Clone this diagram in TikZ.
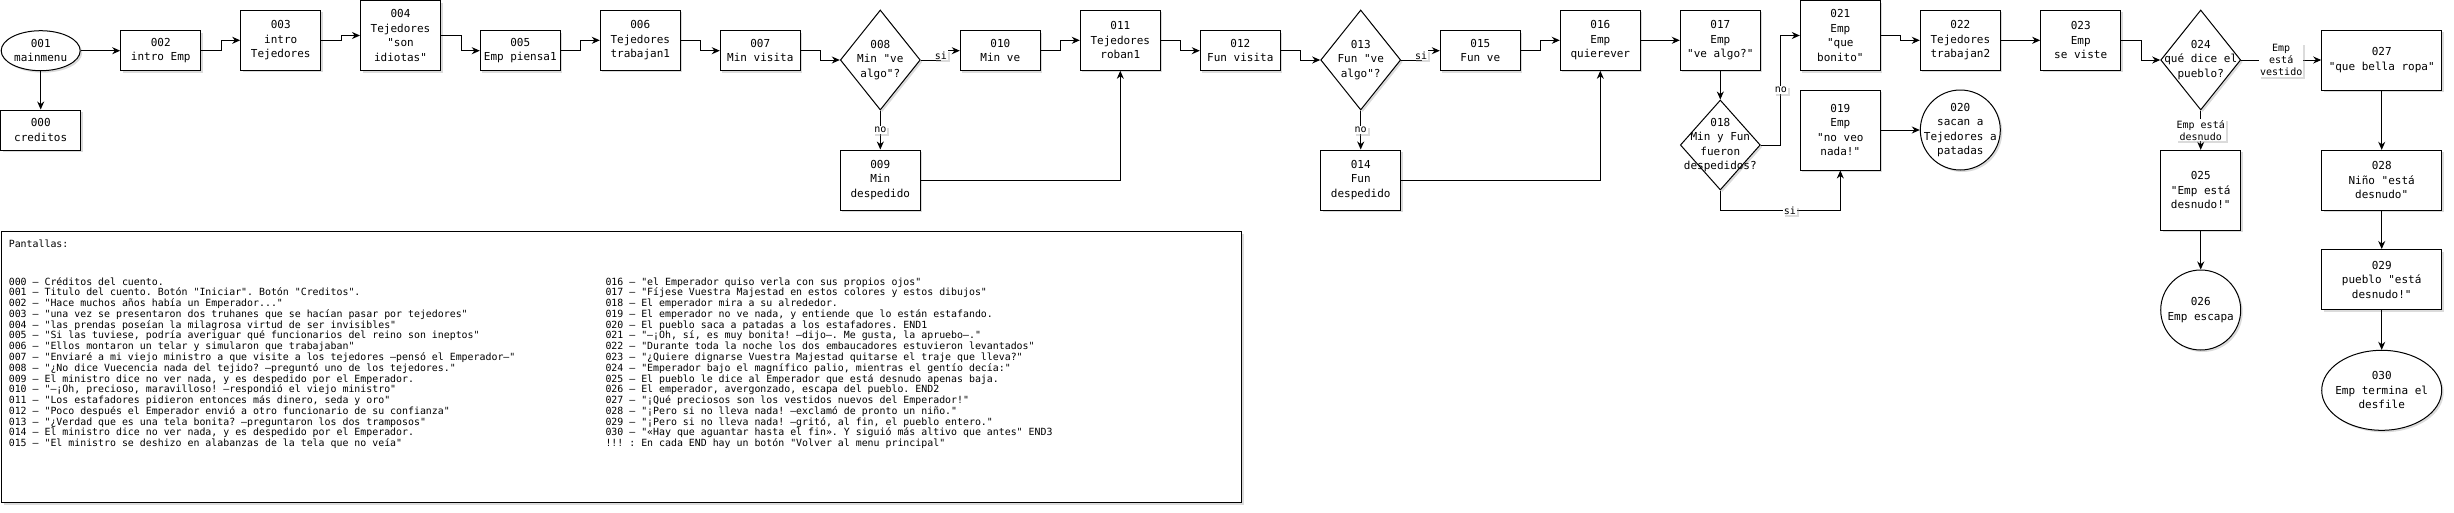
\documentclass[tikz,border=0pt]{standalone}
\usepackage{fontspec}
\setmonofont{DejaVu Sans Mono}
\usepackage{tikz}
\usetikzlibrary{arrows.meta}
\usetikzlibrary{shapes}
\usetikzlibrary{shadows}

\begin{document}
\begin{tikzpicture}[x=1pt, y=-1pt, line width=1pt]
            \tikzset{every node/.style={font=\ttfamily\fontsize{11}{14.5}\selectfont, align=center, inner sep=0pt},
                    >={Stealth[length=8pt, width=7pt]},
                    every edge/.style={draw=black, line width=1pt},
                    boxshadow/.style={drop shadow={shadow xshift=2pt, shadow yshift=-2pt, fill=black!40, opacity=.35}},
                    screen/.style={draw, fill=white, boxshadow, minimum width=80, minimum height=40},
                    choice/.style={diamond, draw, fill=white, boxshadow, minimum width=80, minimum height=100},
                    ending/.style={ellipse, draw, fill=white, boxshadow},
                    lbl/.style={fill=white, boxshadow, inner sep=1pt, font=\ttfamily\fontsize{10}{12}\selectfont},
                    listing/.style={anchor=base west, font=\ttfamily\fontsize{9.9}{10.8}\selectfont}}
            \useasboundingbox (0,0) rectangle (2454,512);
            % screens of the story
            \node[ending, minimum width=79, minimum height=40, label={center:{001\\mainmenu}}] (1) at (40.7, 50.7) {};
            \node[screen] (0) at (40.7, 130) {000\\creditos};
            \node[screen] (2) at (160.7, 50.7) {002\\intro Emp};
            \node[screen, minimum height=60] (3) at (280.7, 40.3) {003\\intro\\Tejedores};
            \node[screen, minimum height=70] (4) at (400.5, 35.5) {004\\Tejedores\\"son\\idiotas"};
            \node[screen] (5) at (520.3, 50.7) {005\\Emp piensa1};
            \node[screen, minimum height=60] (6) at (640.3, 40.3) {006\\Tejedores\\trabajan1};
            \node[screen] (7) at (760.3, 50.7) {007\\Min visita};
            \node[choice, label={center:{008\\Min "ve\\algo"?}}] (8) at (880.3, 60) {};
            \node[screen, minimum height=60] (9) at (880.3, 180) {009\\Min\\despedido};
            \node[screen] (10) at (1000.3, 50.7) {010\\Min ve};
            \node[screen, minimum height=60] (11) at (1120.3, 40.3) {011\\Tejedores\\roban1};
            \node[screen] (12) at (1240.3, 50.7) {012\\Fun visita};
            \node[choice, label={center:{013\\Fun "ve\\algo"?}}] (13) at (1360.7, 60) {};
            \node[screen, minimum height=60] (14) at (1360.7, 180) {014\\Fun\\despedido};
            \node[screen] (15) at (1480.3, 50.7) {015\\Fun ve};
            \node[screen, minimum height=60] (16) at (1600.3, 40.3) {016\\Emp\\quierever};
            \node[screen, minimum height=60] (17) at (1720.3, 40.3) {017\\Emp\\"ve algo?"};
            \node[choice, minimum height=90, label={center:{018\\Min y Fun\\fueron\\despedidos?}}] (18) at (1720.3, 145) {};
            \node[screen, minimum height=80] (19) at (1840.3, 130) {019\\Emp\\"no veo\\nada!"};
            \node[ending, minimum width=80, minimum height=80, label={center:{020\\sacan a\\Tejedores a\\patadas}}] (20) at (1960.3, 130) {};
            \node[screen, minimum height=70] (21) at (1840.3, 35.5) {021\\Emp\\"que\\bonito"};
            \node[screen, minimum height=60] (22) at (1960.3, 40.3) {022\\Tejedores\\trabajan2};
            \node[screen, minimum height=60] (23) at (2080.7, 40.3) {023\\Emp\\se viste};
            \node[choice, label={center:{024\\qué dice el\\pueblo?}}] (24) at (2200.7, 60) {};
            \node[screen, minimum height=80] (25) at (2200.7, 190.3) {025\\"Emp está\\desnudo!"};
            \node[ending, minimum width=80, minimum height=80, label={center:{026\\Emp escapa}}] (26) at (2200.7, 310) {};
            \node[screen, minimum width=120, minimum height=60] (27) at (2381.7, 60) {027\\"que bella ropa"};
            \node[screen, minimum width=120, minimum height=60] (28) at (2381.7, 180.3) {028\\Niño "está\\desnudo"};
            \node[screen, minimum width=120, minimum height=60] (29) at (2381.7, 279.5) {029\\pueblo "está\\desnudo!"};
            \node[ending, minimum width=120, minimum height=80, label={center:{030\\Emp termina el\\desfile}}] (30) at (2381.7, 390.3) {};
            % connections
            \path [->] (1) edge (2);
            \path [->] (1) edge (0);
            \draw [->] (2.east) -- ++(20,0) |- (3.west);
            \draw [->] (3.east) -- ++(20,0) |- (4.west);
            \draw [->] (4.east) -- ++(20,0) |- (5.west);
            \draw [->] (5.east) -- ++(20,0) |- (6.west);
            \draw [->] (6.east) -- ++(20,0) |- (7.west);
            \draw [->] (7.east) -- ++(20,0) |- (8.west);
            \draw [->] (8.east) -- ++(20,0) |- node[lbl, pos=.25] {si} (10.west);
            \path [->] (8) edge node[lbl] {no} (9);
            \draw [->] (9.east) -| (11.south);
            \draw [->] (10.east) -- ++(20,0) |- (11.west);
            \draw [->] (11.east) -- ++(20,0) |- (12.west);
            \draw [->] (12.east) -- ++(20,0) |- (13.west);
            \draw [->] (13.east) -- ++(20,0) |- node[lbl, pos=.25] {si} (15.west);
            \path [->] (13) edge node[lbl] {no} (14);
            \draw [->] (14.east) -| (16.south);
            \draw [->] (15.east) -- ++(20,0) |- (16.west);
            \path [->] (16) edge (17);
            \path [->] (17) edge (18);
            \draw [->] (18.east) -- ++(20,0) |- node[lbl, pos=.25] {no} (21.west);
            \draw [->] (18.south) -- ++(0,20) -| node[lbl, pos=.29] {si} (19.south);
            \path [->] (19) edge (20);
            \draw [->] (21.east) -- ++(20,0) |- (22.west);
            \path [->] (22) edge (23);
            \draw [->] (23.east) -- ++(20,0) |- (24.west);
            \path [->] (24) edge node[lbl] {Emp\\está\\vestido} (27);
            \path [->] (24) edge node[lbl] {Emp está\\desnudo} (25);
            \path [->] (25) edge (26);
            \path [->] (27) edge (28);
            \path [->] (28) edge (29);
            \path [->] (29) edge (30);
            % list of screens
            \node[draw, fill=white, boxshadow, anchor=north west, minimum width=1240, minimum height=271] (panel) at (1, 231) {};
            \node[listing] (titulo) at (8.3, 247) {Pantallas:};
            \foreach \scr [count=\i from 0] in {{000 – Créditos del cuento.},
                    {001 – Titulo del cuento. Botón "Iniciar". Botón "Creditos".},
                    {002 – "Hace muchos años había un Emperador.{}.{}."},
                    {003 – "una vez se presentaron dos truhanes que se hacían pasar por tejedores"},
                    {004 – "las prendas poseían la milagrosa virtud de ser invisibles"},
                    {005 – "Si las tuviese, podría averiguar qué funcionarios del reino son ineptos"},
                    {006 – "Ellos montaron un telar y simularon que trabajaban"},
                    {007 – "Enviaré a mi viejo ministro a que visite a los tejedores –pensó el Emperador–"},
                    {008 – "¿No dice Vuecencia nada del tejido? –preguntó uno de los tejedores."},
                    {009 – El ministro dice no ver nada, y es despedido por el Emperador.},
                    {010 – "–¡Oh, precioso, maravilloso! –respondió el viejo ministro"},
                    {011 – "Los estafadores pidieron entonces más dinero, seda y oro"},
                    {012 – "Poco después el Emperador envió a otro funcionario de su confianza"},
                    {013 – "¿Verdad que es una tela bonita? –preguntaron los dos tramposos"},
                    {014 – El ministro dice no ver nada, y es despedido por el Emperador.},
                    {015 – "El ministro se deshizo en alabanzas de la tela que no veía"}}
                \node[listing] (a\i) at (8.3, 285+10.78*\i) {\scr};
            \foreach \scr [count=\i from 0] in {{016 – "el Emperador quiso verla con sus propios ojos"},
                    {017 – "Fíjese Vuestra Majestad en estos colores y estos dibujos"},
                    {018 – El emperador mira a su alrededor.},
                    {019 – El emperador no ve nada, y entiende que lo están estafando.},
                    {020 – El pueblo saca a patadas a los estafadores. END1},
                    {021 – "–¡Oh, sí, es muy bonita! –dijo–. Me gusta, la apruebo–."},
                    {022 – "Durante toda la noche los dos embaucadores estuvieron levantados"},
                    {023 – "¿Quiere dignarse Vuestra Majestad quitarse el traje que lleva?"},
                    {024 – "Emperador bajo el magnífico palio, mientras el gentío decía:"},
                    {025 – El pueblo le dice al Emperador que está desnudo apenas baja.},
                    {026 – El emperador, avergonzado, escapa del pueblo. END2},
                    {027 – "¡Qué preciosos son los vestidos nuevos del Emperador!"},
                    {028 – "¡Pero si no lleva nada! –exclamó de pronto un niño."},
                    {029 – "¡Pero si no lleva nada! –gritó, al fin, el pueblo entero."},
                    {030 – "«Hay que aguantar hasta el fin». Y siguió más altivo que antes" END3},
                    {!!! : En cada END hay un botón "Volver al menu principal"}}
                \node[listing] (b\i) at (605, 285+10.78*\i) {\scr};
\end{tikzpicture}
\end{document}
